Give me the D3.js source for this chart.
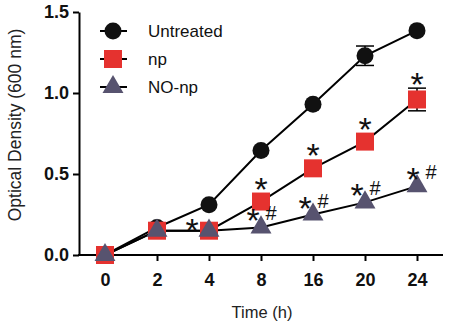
<!DOCTYPE html>
<html>
<head>
<meta charset="utf-8">
<script src="https://cdn.jsdelivr.net/npm/d3@7"></script>
<style>
  body { margin: 0; background: #fff; }
  text { font-family: "Liberation Sans", Arial, sans-serif; }
</style>
</head>
<body>
<div id="container"></div>
<script>
let w = 449;
let h = 324;

// data
let times = ["0", "2", "4", "8", "16", "20", "24"];
let untreated = [0, 0.17, 0.31, 0.645, 0.93, 1.23, 1.385];
let np = [0, 0.15, 0.15, 0.33, 0.535, 0.70, 0.96];
let noNp = [0, 0.15, 0.15, 0.17, 0.25, 0.325, 0.425];
let untreatedErr = [0, 0, 0, 0, 0, 0.06, 0];
let npErr = [0, 0, 0, 0, 0, 0, 0.07];
let yTicks = [0, 0.5, 1.0, 1.5];
let seriesNames = ["Untreated", "np", "NO-np"];
// significance marks
let npStarTimes = ["8", "16", "20", "24"];
let npSideStarTimes = ["4"];
let noNpMarkTimes = ["8", "16", "20", "24"];

let viz = d3.select("#container").append("svg")
  .attr("width", w)
  .attr("height", h)
  .style("background-color", "white");

let axisX = 79;
let axisY = 255;

let xScale = d3.scalePoint().domain(times).range([105, 417]);
let yScale = d3.scaleLinear().domain([0, 1.5]).range([axisY, 12]);

// y axis
let yAxis = d3.axisLeft(yScale).tickValues(yTicks).tickFormat(d3.format(".1f"))
  .tickSize(6).tickSizeOuter(0).tickPadding(4);
let yAxisGroup = viz.append("g").attr("transform", "translate(" + axisX + ",0)").call(yAxis);
yAxisGroup.select(".domain").attr("stroke-width", 2);
yAxisGroup.selectAll(".tick line").attr("stroke-width", 2);
yAxisGroup.selectAll(".tick text")
  .attr("font-size", 18).attr("font-weight", "bold").attr("fill", "#111")
  .style("font-family", "'Liberation Sans', Arial, sans-serif");

// x axis
let xAxis = d3.axisBottom(xScale).tickSize(6).tickSizeOuter(0).tickPadding(12);
let xAxisGroup = viz.append("g").attr("transform", "translate(0," + axisY + ")").call(xAxis);
xAxisGroup.select(".domain").remove();
xAxisGroup.selectAll(".tick line").attr("stroke-width", 2);
xAxisGroup.selectAll(".tick text")
  .attr("font-size", 18).attr("font-weight", "bold").attr("fill", "#111")
  .style("font-family", "'Liberation Sans', Arial, sans-serif");
xAxisGroup.append("line")
  .attr("x1", axisX - 1).attr("x2", 443)
  .attr("y1", 0).attr("y2", 0)
  .attr("stroke", "black").attr("stroke-width", 2);

// axis titles
viz.append("text")
  .attr("transform", "translate(21,125) rotate(-90)")
  .attr("text-anchor", "middle")
  .attr("font-size", 17.5)
  .attr("fill", "#222")
  .text("Optical Density (600 nm)");

viz.append("text")
  .attr("x", 262).attr("y", 318)
  .attr("text-anchor", "middle")
  .attr("font-size", 16.5)
  .attr("fill", "#222")
  .text("Time (h)");

let red = "#e5322f";
let slate = "#57536f";

let lineGen = d3.line()
  .x(function(d, i) { return xScale(times[i]); })
  .y(function(d) { return yScale(d); });

let allSeries = [untreated, np, noNp];
allSeries.forEach(function(s) {
  viz.append("path").datum(s)
    .attr("d", lineGen)
    .attr("fill", "none")
    .attr("stroke", "black")
    .attr("stroke-width", 2);
});

function drawErrors(values, errs) {
  values.forEach(function(v, i) {
    if (errs[i] <= 0) return;
    let x = xScale(times[i]);
    let g = viz.append("g").attr("stroke", "black").attr("stroke-width", 1.5);
    g.append("line").attr("x1", x).attr("x2", x)
      .attr("y1", yScale(v - errs[i])).attr("y2", yScale(v + errs[i]));
    [v - errs[i], v + errs[i]].forEach(function(e) {
      g.append("line").attr("x1", x - 9).attr("x2", x + 9)
        .attr("y1", yScale(e)).attr("y2", yScale(e));
    });
  });
}
drawErrors(untreated, untreatedErr);
drawErrors(np, npErr);

let circleSym = d3.symbol().type(d3.symbolCircle).size(Math.PI * 8.5 * 8.5);
let squareSym = d3.symbol().type(d3.symbolSquare).size(18 * 18);
let triSym = d3.symbol().type(d3.symbolTriangle).size(190);

function drawMarkers(values, sym, color) {
  viz.append("g").selectAll("path")
    .data(values)
    .join("path")
    .attr("d", sym)
    .attr("fill", color)
    .attr("transform", function(d, i) {
      return "translate(" + xScale(times[i]) + "," + yScale(d) + ")";
    });
}
drawMarkers(untreated, circleSym, "#111");
drawMarkers(np, squareSym, red);
drawMarkers(noNp, triSym, slate);

// significance marks
function idx(t) { return times.indexOf(t); }
let starSize = 34;

npStarTimes.forEach(function(t) {
  let i = idx(t);
  let top = Math.min(yScale(np[i]) - 19, yScale(np[i] + npErr[i]) - 10);
  viz.append("text")
    .attr("x", xScale(t)).attr("y", top + 18)
    .attr("text-anchor", "middle")
    .attr("font-size", starSize).attr("fill", "#111")
    .text("*");
});

npSideStarTimes.forEach(function(t) {
  let i = idx(t);
  viz.append("text")
    .attr("x", xScale(t) - 17).attr("y", yScale(np[i]) - 7 + 18)
    .attr("text-anchor", "middle")
    .attr("font-size", starSize).attr("fill", "#111")
    .text("*");
});

noNpMarkTimes.forEach(function(t) {
  let i = idx(t);
  let x = xScale(t) + (t === "24" ? 4 : 0);
  let y = yScale(noNp[i]) - 13;
  viz.append("text")
    .attr("x", x - 8).attr("y", y + 18)
    .attr("text-anchor", "middle")
    .attr("font-size", starSize).attr("fill", "#111")
    .text("*");
  viz.append("text")
    .attr("x", x + 10).attr("y", y + 6)
    .attr("text-anchor", "middle")
    .attr("font-size", 20).attr("fill", "#111")
    .text("#");
});

// legend
let legendRows = [
  { name: seriesNames[0], sym: circleSym, color: "#111" },
  { name: seriesNames[1], sym: squareSym, color: red },
  { name: seriesNames[2], sym: triSym, color: slate }
];
let legend = viz.append("g");
legendRows.forEach(function(r, i) {
  let y = 31 + i * 28;
  legend.append("line")
    .attr("x1", 100).attr("x2", 127)
    .attr("y1", y).attr("y2", y)
    .attr("stroke", "black").attr("stroke-width", 2);
  legend.append("path")
    .attr("d", r.sym)
    .attr("fill", r.color)
    .attr("transform", "translate(113," + y + ")");
  legend.append("text")
    .attr("x", 148).attr("y", y + 6)
    .attr("font-size", 17)
    .attr("fill", "#111")
    .text(r.name);
});
</script>
</body>
</html>
